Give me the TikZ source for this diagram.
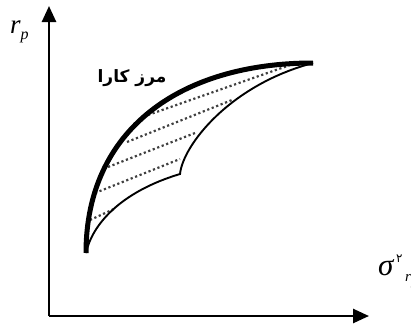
\documentclass[tikz,border=0pt]{standalone}
\usepackage{fontspec}
\setmainfont{Liberation Serif}
\newfontfamily\arabicfont[Script=Arabic]{DejaVu Sans}
\TeXXeTstate=1
\usetikzlibrary{arrows.meta}
\begin{document}
\begin{tikzpicture}[x=1pt,y=-1pt,
  axis/.style={line width=2.6pt,-{Triangle[length=16pt,width=14pt]}},
  frontier/.style={line width=5pt},
  feasible/.style={line width=1.9pt},
  dots/.style={line width=2.2pt,draw=black!75,dash pattern=on 2.2pt off 2.6pt}]
\useasboundingbox (0,0) rectangle (411,327);
% axes
\coordinate (O) at (49,316);
\coordinate (Ytop) at (49,6);
\coordinate (Xend) at (369,316);
\draw[axis] (O) -- (Ytop);
\draw[axis] (O) -- (Xend);
% key points
\coordinate (A) at (86,253);
\coordinate (T) at (313,63);
\coordinate (K) at (180,174);
% dotted chords
\draw[dots] (90,220) -- (114,209);
\draw[dots] (95,193) -- (180,159);
\draw[dots] (108,167) -- (195,133);
\draw[dots] (127,142) -- (232,100);
\draw[dots] (148,115) -- (293,64);
% lower boundary
\draw[feasible] (A) .. controls (92,225) and (120,192) .. (K)
  .. controls (183,145) and (230,85) .. (T);
% efficient frontier
\draw[frontier] (A) .. controls (86,130) and (180,63) .. (T);
% labels
\node[anchor=base west,inner sep=0pt] (ry) at (10,33) {{\fontsize{27}{27}\selectfont\itshape r}\raisebox{-6pt}{\fontsize{16}{16}\selectfont\itshape p}};
\node[anchor=base,inner sep=0pt] (lbl) at (132,82) {\arabicfont\bfseries\fontsize{17}{17}\selectfont\beginR مرز کارا\endR};
\node[anchor=base west,inner sep=0pt] (sig) at (378,275) {\fontsize{31}{31}\selectfont\itshape σ};
\node[anchor=base west,inner sep=0pt] (two) at (396,262) {\arabicfont\fontsize{12}{12}\selectfont ۲};
\node[anchor=base west,inner sep=0pt] (sub) at (405,281) {{\fontsize{15}{15}\selectfont\itshape r}\raisebox{-4pt}{\fontsize{10}{10}\selectfont\itshape p}};
\end{tikzpicture}
\end{document}
